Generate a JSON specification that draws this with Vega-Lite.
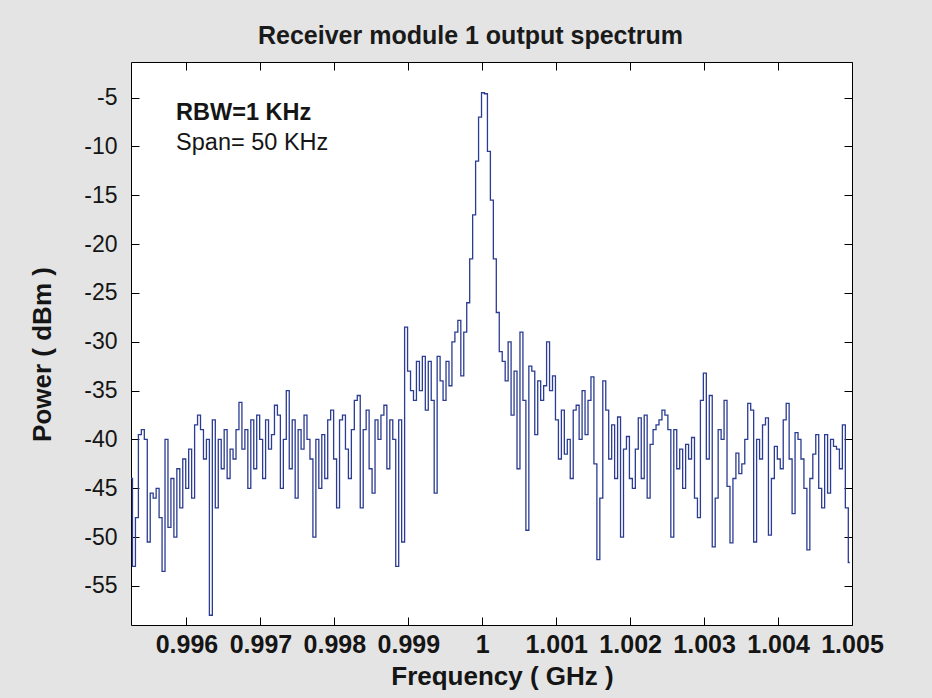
{
  "$schema": "https://vega.github.io/schema/vega-lite/v6.json",
  "width": 721,
  "height": 563,
  "autosize": {"type": "none"},
  "padding": {"left": 131, "top": 62, "right": 80, "bottom": 73},
  "background": "#e4e4e4",
  "title": {"text": "Receiver module 1 output spectrum", "fontSize": 25, "fontWeight": "bold", "font": "Liberation Sans", "anchor": "middle", "frame": "group", "offset": 13, "dx": -21, "color": "#1a1a1a"},
  "config": {
    "font": "Liberation Sans",
    "view": {"stroke": "#000", "strokeWidth": 1, "fill": "#ffffff"},
    "axis": {"grid": false, "domain": false, "tickColor": "#000", "labelColor": "#151515", "titleColor": "#151515", "labelFont": "Liberation Sans", "titleFont": "Liberation Sans"}
  },
  "datasets": {
    "spec": [
      {"f":0.99525,"p":-44},{"f":0.99529,"p":-53},{"f":0.99533,"p":-48},{"f":0.99537,"p":-39.5},{"f":0.99541,"p":-39},{"f":0.99545,"p":-40},{"f":0.99549,"p":-50.5},{"f":0.99553,"p":-45.5},{"f":0.99557,"p":-46},{"f":0.99561,"p":-45},
      {"f":0.99565,"p":-48},{"f":0.99569,"p":-53.5},{"f":0.99573,"p":-40},{"f":0.99577,"p":-49},{"f":0.99581,"p":-44},{"f":0.99585,"p":-50},{"f":0.99589,"p":-43},{"f":0.99593,"p":-47},{"f":0.99597,"p":-42},{"f":0.99601,"p":-45},
      {"f":0.99605,"p":-41},{"f":0.99609,"p":-46},{"f":0.99613,"p":-38.5},{"f":0.99617,"p":-37.5},{"f":0.99621,"p":-39},{"f":0.99625,"p":-42},{"f":0.99629,"p":-40},{"f":0.99633,"p":-58},{"f":0.99637,"p":-38},{"f":0.99641,"p":-47},
      {"f":0.99645,"p":-40},{"f":0.99649,"p":-43},{"f":0.99653,"p":-39},{"f":0.99657,"p":-44},{"f":0.99661,"p":-41},{"f":0.99665,"p":-42},{"f":0.99669,"p":-39},{"f":0.99673,"p":-36.2},{"f":0.99677,"p":-41},{"f":0.99681,"p":-39},
      {"f":0.99685,"p":-45},{"f":0.99689,"p":-38},{"f":0.99693,"p":-43},{"f":0.99697,"p":-37.5},{"f":0.99701,"p":-40},{"f":0.99705,"p":-44},{"f":0.99709,"p":-38},{"f":0.99713,"p":-41},{"f":0.99717,"p":-39.5},{"f":0.99721,"p":-36.5},
      {"f":0.99725,"p":-37.5},{"f":0.99729,"p":-45},{"f":0.99733,"p":-40},{"f":0.99737,"p":-35},{"f":0.99741,"p":-43},{"f":0.99745,"p":-38},{"f":0.99749,"p":-46},{"f":0.99753,"p":-39},{"f":0.99757,"p":-41},{"f":0.99761,"p":-37.5},
      {"f":0.99765,"p":-40},{"f":0.99769,"p":-42},{"f":0.99773,"p":-50},{"f":0.99777,"p":-40},{"f":0.99781,"p":-45},{"f":0.99785,"p":-39.5},{"f":0.99789,"p":-44},{"f":0.99793,"p":-38},{"f":0.99797,"p":-37},{"f":0.99801,"p":-42},
      {"f":0.99805,"p":-47},{"f":0.99809,"p":-38},{"f":0.99813,"p":-37.5},{"f":0.99817,"p":-41},{"f":0.99821,"p":-44},{"f":0.99825,"p":-39},{"f":0.99829,"p":-36},{"f":0.99833,"p":-35.5},{"f":0.99837,"p":-47},{"f":0.99841,"p":-39},
      {"f":0.99845,"p":-37},{"f":0.99849,"p":-43},{"f":0.99853,"p":-45.5},{"f":0.99857,"p":-38},{"f":0.99861,"p":-40},{"f":0.99865,"p":-37.5},{"f":0.99869,"p":-36.5},{"f":0.99873,"p":-43},{"f":0.99877,"p":-38},{"f":0.99881,"p":-40},
      {"f":0.99885,"p":-53},{"f":0.99889,"p":-38},{"f":0.99893,"p":-50.5},{"f":0.99897,"p":-28.5},{"f":0.99901,"p":-33},{"f":0.99905,"p":-35},{"f":0.99909,"p":-36},{"f":0.99913,"p":-32},{"f":0.99917,"p":-35},{"f":0.99921,"p":-31.5},
      {"f":0.99925,"p":-37},{"f":0.99929,"p":-32},{"f":0.99933,"p":-36},{"f":0.99937,"p":-45.5},{"f":0.99941,"p":-31.5},{"f":0.99945,"p":-34},{"f":0.99949,"p":-36},{"f":0.99953,"p":-32},{"f":0.99957,"p":-34.5},{"f":0.99961,"p":-30},
      {"f":0.99965,"p":-29},{"f":0.99969,"p":-27.8},{"f":0.99973,"p":-33.5},{"f":0.99977,"p":-29},{"f":0.99981,"p":-26},{"f":0.99985,"p":-21.5},{"f":0.99989,"p":-17},{"f":0.99993,"p":-11.5},{"f":0.99997,"p":-7},{"f":1.00001,"p":-4.5},
      {"f":1.00005,"p":-4.6},{"f":1.00009,"p":-10.5},{"f":1.00013,"p":-15.5},{"f":1.00017,"p":-21.5},{"f":1.00021,"p":-27},{"f":1.00025,"p":-31},{"f":1.00029,"p":-32},{"f":1.00033,"p":-34},{"f":1.00037,"p":-30},{"f":1.00041,"p":-37.5},
      {"f":1.00045,"p":-33},{"f":1.00049,"p":-43},{"f":1.00053,"p":-29},{"f":1.00057,"p":-36},{"f":1.00061,"p":-49.3},{"f":1.00065,"p":-32.5},{"f":1.00069,"p":-33},{"f":1.00073,"p":-39.5},{"f":1.00077,"p":-34},{"f":1.00081,"p":-36},
      {"f":1.00085,"p":-34.5},{"f":1.00089,"p":-30},{"f":1.00093,"p":-35},{"f":1.00097,"p":-33.5},{"f":1.00101,"p":-38},{"f":1.00105,"p":-42},{"f":1.00109,"p":-37},{"f":1.00113,"p":-41.5},{"f":1.00117,"p":-40},{"f":1.00121,"p":-44},
      {"f":1.00125,"p":-37},{"f":1.00129,"p":-36.5},{"f":1.00133,"p":-40},{"f":1.00137,"p":-35},{"f":1.00141,"p":-39.5},{"f":1.00145,"p":-36},{"f":1.00149,"p":-33.6},{"f":1.00153,"p":-42.5},{"f":1.00157,"p":-52.3},{"f":1.00161,"p":-46},
      {"f":1.00165,"p":-34},{"f":1.00169,"p":-37},{"f":1.00173,"p":-42},{"f":1.00177,"p":-38.5},{"f":1.00181,"p":-44},{"f":1.00185,"p":-37.7},{"f":1.00189,"p":-50},{"f":1.00193,"p":-41},{"f":1.00197,"p":-39.7},{"f":1.00201,"p":-44},
      {"f":1.00205,"p":-45},{"f":1.00209,"p":-41},{"f":1.00213,"p":-37.8},{"f":1.00217,"p":-44},{"f":1.00221,"p":-37.5},{"f":1.00225,"p":-46},{"f":1.00229,"p":-40.5},{"f":1.00233,"p":-39},{"f":1.00237,"p":-38.5},{"f":1.00241,"p":-38},
      {"f":1.00245,"p":-37},{"f":1.00249,"p":-37.5},{"f":1.00253,"p":-39},{"f":1.00257,"p":-50},{"f":1.00261,"p":-39},{"f":1.00265,"p":-43},{"f":1.00269,"p":-41},{"f":1.00273,"p":-45},{"f":1.00277,"p":-40.5},{"f":1.00281,"p":-42},
      {"f":1.00285,"p":-39.8},{"f":1.00289,"p":-46},{"f":1.00293,"p":-48},{"f":1.00297,"p":-36},{"f":1.00301,"p":-33.2},{"f":1.00305,"p":-42},{"f":1.00309,"p":-35.5},{"f":1.00313,"p":-51},{"f":1.00317,"p":-46},{"f":1.00321,"p":-39},
      {"f":1.00325,"p":-40},{"f":1.00329,"p":-36},{"f":1.00333,"p":-44.8},{"f":1.00337,"p":-50.6},{"f":1.00341,"p":-44},{"f":1.00345,"p":-41.4},{"f":1.00349,"p":-43.5},{"f":1.00353,"p":-42.5},{"f":1.00357,"p":-40},{"f":1.00361,"p":-36.3},
      {"f":1.00365,"p":-37},{"f":1.00369,"p":-50.5},{"f":1.00373,"p":-40},{"f":1.00377,"p":-42},{"f":1.00381,"p":-38.5},{"f":1.00385,"p":-37.8},{"f":1.00389,"p":-49.8},{"f":1.00393,"p":-44},{"f":1.00397,"p":-40.7},{"f":1.00401,"p":-42},
      {"f":1.00405,"p":-43},{"f":1.00409,"p":-38},{"f":1.00413,"p":-36.3},{"f":1.00417,"p":-42},{"f":1.00421,"p":-47.6},{"f":1.00425,"p":-39.3},{"f":1.00429,"p":-40},{"f":1.00433,"p":-42},{"f":1.00437,"p":-45},{"f":1.00441,"p":-51.3},
      {"f":1.00445,"p":-44},{"f":1.00449,"p":-41.5},{"f":1.00453,"p":-39.5},{"f":1.00457,"p":-45},{"f":1.00461,"p":-47},{"f":1.00465,"p":-39.5},{"f":1.00469,"p":-45.5},{"f":1.00473,"p":-40},{"f":1.00477,"p":-40.7},{"f":1.00481,"p":-41},
      {"f":1.00485,"p":-43},{"f":1.00489,"p":-38.5},{"f":1.00493,"p":-47},{"f":1.00497,"p":-52.6}
    ],
    "note1": [{"f": 0.99586, "p": -6.6, "t": "RBW=1 KHz"}],
    "note2": [{"f": 0.99586, "p": -9.6, "t": "Span= 50 KHz"}]
  },
  "resolve": {"axis": {"x": "independent", "y": "independent"}},
  "layer": [
    {
      "data": {"name": "spec"},
      "mark": {"type": "line", "interpolate": "step", "color": "#2b3c92", "strokeWidth": 1.3, "clip": true},
      "encoding": {
        "x": {"field": "f", "type": "quantitative", "scale": {"domain": [0.99525, 1.005], "nice": false, "zero": false},
          "axis": {"orient": "bottom", "values": [0.996, 0.997, 0.998, 0.999, 1, 1.001, 1.002, 1.003, 1.004, 1.005], "format": ".4~g", "labelFontSize": 25, "labelFontWeight": "bold", "labelOverlap": false, "labelFlush": false, "tickSize": -8, "labelPadding": 15, "title": "Frequency ( GHz )", "titleFontSize": 26, "titleFontWeight": "bold", "titlePadding": 6, "titleX": 371}},
        "y": {"field": "p", "type": "quantitative", "scale": {"domain": [-59, -1.35], "nice": false, "zero": false},
          "axis": {"orient": "left", "values": [-55, -50, -45, -40, -35, -30, -25, -20, -15, -10, -5], "labelExpr": "'' + datum.value", "labelFontSize": 23, "labelFontWeight": "normal", "labelOverlap": false, "labelFlush": false, "tickSize": -8, "labelPadding": 22, "title": "Power ( dBm )", "titleFontSize": 26, "titleFontWeight": "bold", "titlePadding": 28, "titleY": 292}}
      }
    },
    {
      "data": {"name": "spec"},
      "mark": {"type": "line", "strokeOpacity": 0},
      "encoding": {
        "x": {"field": "f", "type": "quantitative", "scale": {"domain": [0.99525, 1.005], "nice": false, "zero": false},
          "axis": {"orient": "top", "values": [0.996, 0.997, 0.998, 0.999, 1, 1.001, 1.002, 1.003, 1.004, 1.005], "labels": false, "tickSize": -8, "title": null}},
        "y": {"field": "p", "type": "quantitative", "scale": {"domain": [-59, -1.35], "nice": false, "zero": false},
          "axis": {"orient": "right", "values": [-55, -50, -45, -40, -35, -30, -25, -20, -15, -10, -5], "labels": false, "tickSize": -8, "title": null}}
      }
    },
    {
      "data": {"name": "note1"},
      "mark": {"type": "text", "align": "left", "baseline": "middle", "fontSize": 23.5, "fontWeight": "bold", "color": "#151515"},
      "encoding": {
        "x": {"field": "f", "type": "quantitative", "scale": {"domain": [0.99525, 1.005], "nice": false, "zero": false}, "axis": null},
        "y": {"field": "p", "type": "quantitative", "scale": {"domain": [-59, -1.35], "nice": false, "zero": false}, "axis": null},
        "text": {"field": "t"}
      }
    },
    {
      "data": {"name": "note2"},
      "mark": {"type": "text", "align": "left", "baseline": "middle", "fontSize": 23.5, "fontWeight": "normal", "color": "#151515"},
      "encoding": {
        "x": {"field": "f", "type": "quantitative", "scale": {"domain": [0.99525, 1.005], "nice": false, "zero": false}, "axis": null},
        "y": {"field": "p", "type": "quantitative", "scale": {"domain": [-59, -1.35], "nice": false, "zero": false}, "axis": null},
        "text": {"field": "t"}
      }
    }
  ]
}
